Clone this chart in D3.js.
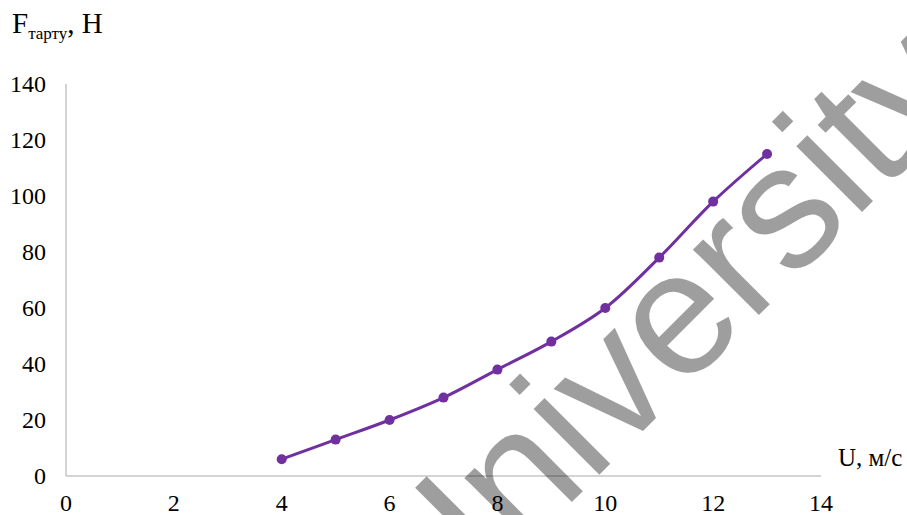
<!DOCTYPE html>
<html>
<head>
<meta charset="utf-8">
<script src="https://cdn.jsdelivr.net/npm/d3@7"></script>
<style>
  html, body { margin: 0; padding: 0; background: #fff; }
  svg { display: block; }
</style>
</head>
<body>
<div id="chart"></div>
<script>
const speeds = [4, 5, 6, 7, 8, 9, 10, 11, 12, 13];
const forces = [6, 13, 20, 28, 38, 48, 60, 78, 98, 115];
const xTicks = [0, 2, 4, 6, 8, 10, 12, 14];
const yTicks = [0, 20, 40, 60, 80, 100, 120, 140];

const width = 907;
const height = 515;
const margin = {top: 84, right: 86, bottom: 39, left: 66};

const svg = d3.select('#chart')
  .append('svg')
  .attr('width', width)
  .attr('height', height);

const x = d3.scaleLinear()
  .domain([0, 14])
  .range([margin.left, width - margin.right]);

const y = d3.scaleLinear()
  .domain([0, 140])
  .range([height - margin.bottom, margin.top]);

const serif = '"Liberation Serif", "Times New Roman", serif';
const axisColor = '#c6c6c6';

// Axis lines
svg.append('line')
  .attr('x1', x(0)).attr('x2', x(0))
  .attr('y1', y(140)).attr('y2', y(0))
  .attr('stroke', axisColor)
  .attr('stroke-width', 1.5);

svg.append('line')
  .attr('x1', x(0)).attr('x2', x(14))
  .attr('y1', y(0)).attr('y2', y(0))
  .attr('stroke', axisColor)
  .attr('stroke-width', 1.5);

// Tick labels
svg.selectAll('.ytick')
  .data(yTicks)
  .enter().append('text')
  .attr('class', 'ytick')
  .attr('x', 46)
  .attr('y', d => y(d))
  .attr('dy', '0.35em')
  .attr('text-anchor', 'end')
  .style('font-family', serif)
  .style('font-size', '24px')
  .text(d => d);

svg.selectAll('.xtick')
  .data(xTicks)
  .enter().append('text')
  .attr('class', 'xtick')
  .attr('x', d => x(d))
  .attr('y', 511)
  .attr('text-anchor', 'middle')
  .style('font-family', serif)
  .style('font-size', '24px')
  .text(d => d);

// Axis titles
const title = svg.append('text')
  .attr('x', 12)
  .attr('y', 33)
  .style('font-family', serif)
  .style('font-size', '29px');
title.append('tspan').text('F');
title.append('tspan')
  .attr('dy', 6)
  .style('font-size', '17px')
  .text('тарту');
title.append('tspan')
  .attr('dy', -6)
  .text(', Н');

svg.append('text')
  .attr('x', 838)
  .attr('y', 466)
  .style('font-family', serif)
  .style('font-size', '25px')
  .text('U, м/с');

// Series
const points = speeds.map((s, i) => [s, forces[i]]);

const line = d3.line()
  .x(d => x(d[0]))
  .y(d => y(d[1]))
  .curve(d3.curveCatmullRom.alpha(0.5));

svg.append('path')
  .datum(points)
  .attr('fill', 'none')
  .attr('stroke', '#7030a0')
  .attr('stroke-width', 3)
  .attr('d', line);

svg.selectAll('.dot')
  .data(points)
  .enter().append('circle')
  .attr('class', 'dot')
  .attr('cx', d => x(d[0]))
  .attr('cy', d => y(d[1]))
  .attr('r', 5)
  .attr('fill', '#7030a0');

// Watermark
svg.append('text')
  .attr('transform', 'translate(432,642) rotate(-45)')
  .style('font-family', '"Liberation Sans", Arial, sans-serif')
  .style('font-size', '176px')
  .attr('fill', '#000')
  .attr('fill-opacity', 0.38)
  .text('University');
</script>
</body>
</html>
